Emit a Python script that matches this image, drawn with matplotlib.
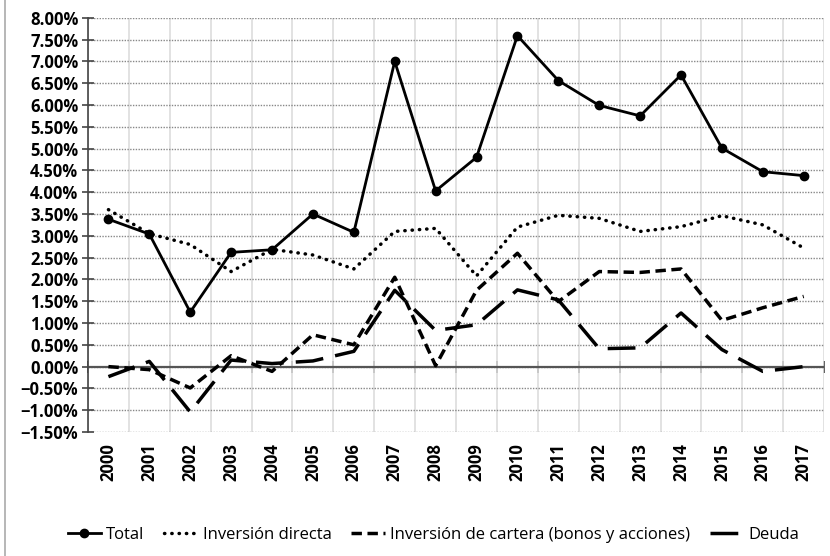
import numpy as np
import matplotlib.pyplot as plt
from matplotlib.lines import Line2D
from matplotlib.ticker import PercentFormatter, MultipleLocator, FixedLocator

years = [str(y) for y in range(2000, 2018)]

# shares of GDP (%)
total = [3.38, 3.04, 1.25, 2.62, 2.68, 3.50, 3.08, 7.00, 4.03, 4.80,
         7.59, 6.56, 5.99, 5.75, 6.69, 5.01, 4.47, 4.38]
inv_directa = [3.60, 3.05, 2.80, 2.18, 2.69, 2.56, 2.24, 3.10, 3.17, 2.08,
               3.20, 3.47, 3.40, 3.10, 3.21, 3.46, 3.25, 2.72]
inv_cartera = [0.00, -0.07, -0.49, 0.25, -0.11, 0.73, 0.50, 2.05, 0.02, 1.75,
               2.60, 1.49, 2.18, 2.16, 2.24, 1.06, 1.35, 1.61]
deuda = [-0.23, 0.12, -1.04, 0.15, 0.07, 0.13, 0.35, 1.75, 0.83, 0.96,
         1.76, 1.53, 0.41, 0.43, 1.23, 0.39, -0.11, 0.00]

plt.rcParams['font.family'] = ['Open Sans', 'DejaVu Sans']

fig = plt.figure(figsize=(8.3, 5.56), dpi=100)
ax = fig.add_axes([0.106, 0.223, 0.887, 0.745])

x = np.arange(len(years))
ax.plot(x, total, color='black', lw=2, marker='o', ms=6, label='Total')
ax.plot(x, inv_directa, color='black', lw=2.5, linestyle=(0, (0.1, 2)),
        dash_capstyle='round', label='Inversión directa')
ax.plot(x, inv_cartera, color='black', lw=2.5, linestyle=(0, (3, 1.6)),
        label='Inversión de cartera (bonos y acciones)')
ax.plot(x, deuda, color='black', lw=2.5, linestyle=(0, (8, 3.5)), label='Deuda')

ymin, ymax = -1.5, 8.0
ax.set_ylim(ymin, ymax)
ax.set_xlim(-0.5, len(years) - 0.5)
ax.yaxis.set_major_locator(MultipleLocator(0.5))
ax.yaxis.set_major_formatter(PercentFormatter(decimals=2))

ax.set_xticks(x)
ax.set_xticklabels(years, rotation=90)
ax.xaxis.set_minor_locator(FixedLocator(np.arange(-0.5, len(years), 1)))
ax.tick_params(axis='x', which='major', length=0, pad=8)
ax.tick_params(axis='x', which='minor', length=0)
ax.tick_params(axis='y', direction='inout', length=8, width=1.2, color='#444444', pad=3)
for lab in ax.get_xticklabels() + ax.get_yticklabels():
    lab.set_fontweight('bold')
    lab.set_fontsize(12)

ax.grid(axis='y', which='major', color='#888888', linestyle=(0, (1, 1)), lw=1)
ax.grid(axis='x', which='minor', color='#dddddd', linestyle='-', lw=1.2)
ax.set_axisbelow(True)

for s in ['top', 'right', 'bottom']:
    ax.spines[s].set_visible(False)
ax.spines['left'].set_color('#444444')
ax.spines['left'].set_linewidth(1.2)

# zero line with crossing ticks at category boundaries
ax.axhline(0, color='#555555', lw=1.6, zorder=1.5)
zero_loc = (0 - ymin) / (ymax - ymin)
sec = ax.secondary_xaxis(zero_loc)
sec.set_xticks(np.arange(-0.5, len(years), 1))
sec.set_xticklabels([])
sec.tick_params(direction='inout', length=8, width=1.2, color='#444444')
sec.spines['bottom'].set_visible(False)
sec.spines['top'].set_visible(False)

fig.legend(loc='center', bbox_to_anchor=(0.522, 0.038), ncol=4, frameon=False,
           handlelength=2.0, handletextpad=0.3, columnspacing=1.2,
           prop={'size': 12})

fig.add_artist(Line2D([0.006, 0.006], [0, 1], color='#aaaaaa', lw=1.2))

fig.savefig('out.png', dpi=100, facecolor='white')
